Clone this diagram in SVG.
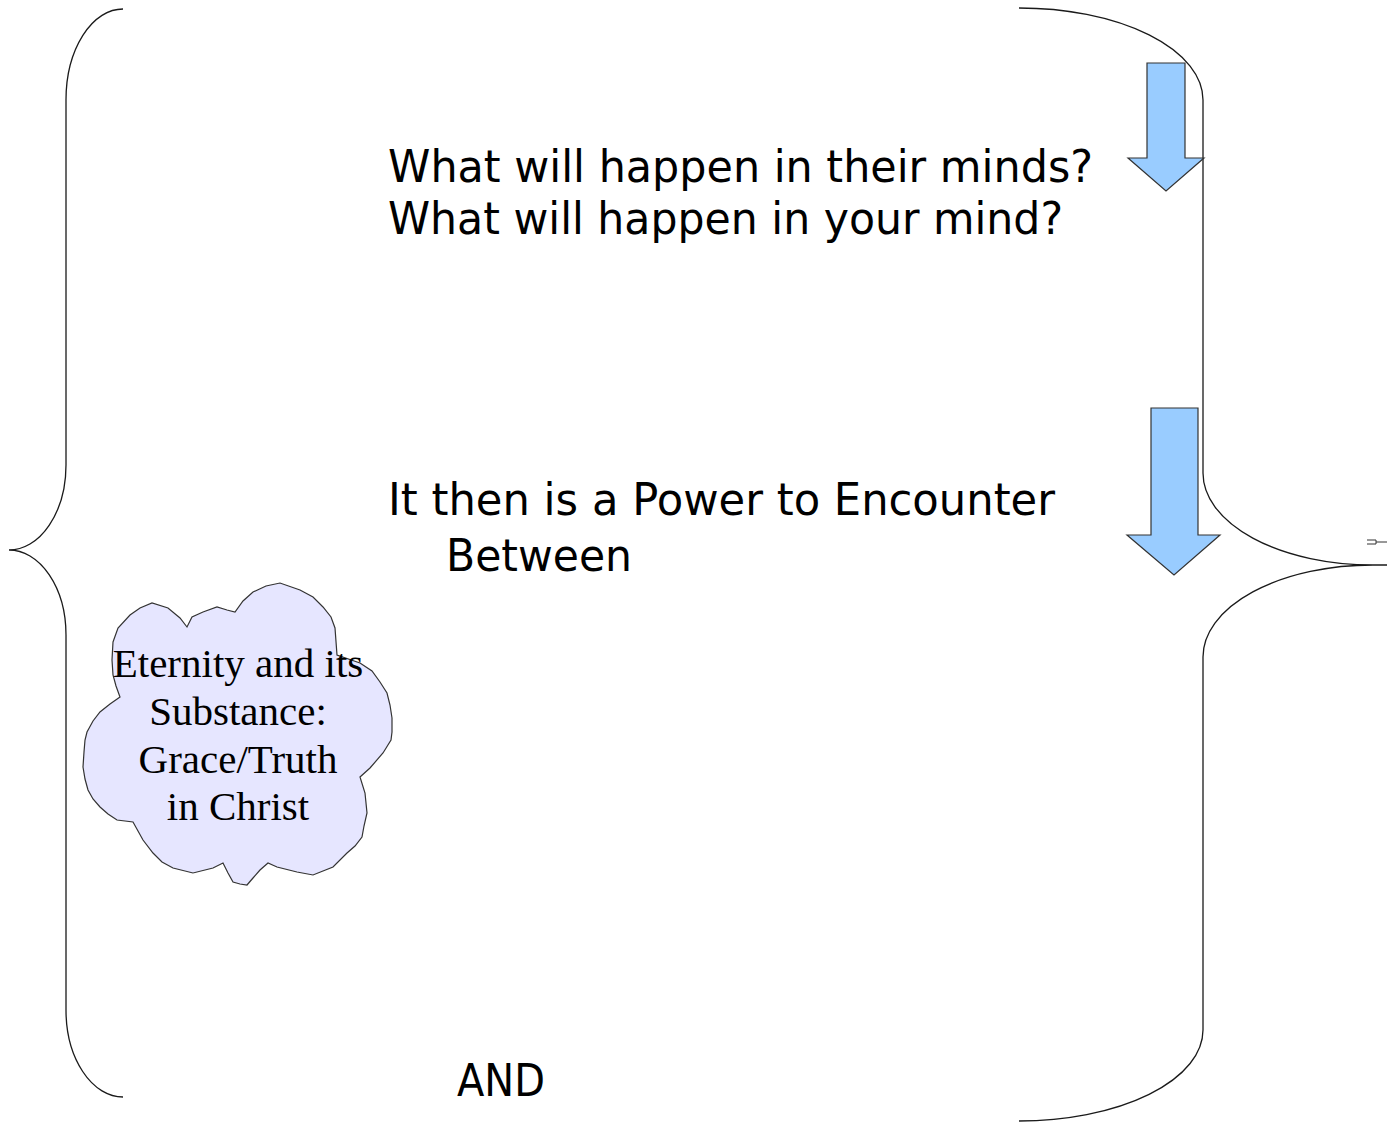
<svg xmlns="http://www.w3.org/2000/svg" width="1387" height="1123" viewBox="0 0 1387 1123">
<style>
.brace{fill:none;stroke:#1a1a1a;stroke-width:1.3}
.arrow{fill:#99ccff;stroke:#333;stroke-width:1.2}
.sans{font-family:"DejaVu Sans","Liberation Sans",sans-serif;font-size:45px;fill:#000}
.serif{font-family:"Liberation Serif","Times New Roman",serif;font-size:41px;fill:#000;text-anchor:middle}
.cloud{fill:#e6e6ff;stroke:#333;stroke-width:1.2}
</style>
<rect width="1387" height="1123" fill="#fff"/>
<g id="connectors">
<path id="left-brace" class="brace" d="M123,9 A57,91 0 0 0 66,100 L66,465 A57,85 0 0 1 9,550 A57,85 0 0 1 66,635 L66,1010 A57,87 0 0 0 123,1097"/>
<path id="right-brace" class="brace" d="M1019,8 A184,92 0 0 1 1203,100 L1203,473 A170,92 0 0 0 1373,565 L1387,565 M1373,565 A170,92 0 0 0 1203,657 L1203,1030 A184,91 0 0 1 1019,1121"/>
<path id="stub" fill="none" stroke="#333" stroke-width="1" d="M1367,540 H1376 V544 H1367 M1376,542 H1387"/>
</g>
<g id="arrow-1"><polygon class="arrow" points="1147,63 1185,63 1185,158 1204,158 1166,191 1128,158 1147,158"/></g>
<g id="arrow-2"><polygon class="arrow" points="1151,408 1198,408 1198,535 1220,535 1174,575 1127,535 1151,535"/></g>
<g id="question-text">
<text class="sans" x="388" y="182" textLength="705" lengthAdjust="spacingAndGlyphs">What will happen in their minds?</text>
<text class="sans" x="388" y="234" textLength="675" lengthAdjust="spacingAndGlyphs">What will happen in your mind?</text>
</g>
<g id="power-text">
<text class="sans" x="388" y="515" textLength="667" lengthAdjust="spacingAndGlyphs">It then is a Power to Encounter</text>
<text class="sans" x="446" y="571" textLength="186" lengthAdjust="spacingAndGlyphs">Between</text>
</g>
<g id="and-text">
<text class="sans" x="457" y="1096" textLength="88" lengthAdjust="spacingAndGlyphs">AND</text>
</g>
<g id="cloud">
<polygon class="cloud" points="113,642 118,628 130,615 140,608 152,603 168,608 180,618 187,627 192,617 203,612 217,607 227,610 235,612 243,601 253,592 266,586 280,583 300,590 313,597 323,607 331,617 335,628 337,655 360,663 372,671 380,682 387,693 390,705 392,718 392,732 391,740 383,753 370,768 360,777 365,793 367,813 364,826 362,837 355,846 347,853 333,867 313,875 297,872 277,867 268,863 260,870 253,878 247,885 240,884 233,882 228,873 223,863 213,868 193,873 173,868 162,862 153,853 143,840 133,822 117,820 108,814 100,807 93,799 88,790 85,779 83,767 84,752 85,740 87,732 93,721 100,712 110,704 120,697 116,686 113,675 112,660"/>
<text class="serif" x="238" y="677">Eternity and its</text>
<text class="serif" x="238" y="725">Substance:</text>
<text class="serif" x="238" y="773">Grace/Truth</text>
<text class="serif" x="238" y="820">in Christ</text>
</g>
</svg>
